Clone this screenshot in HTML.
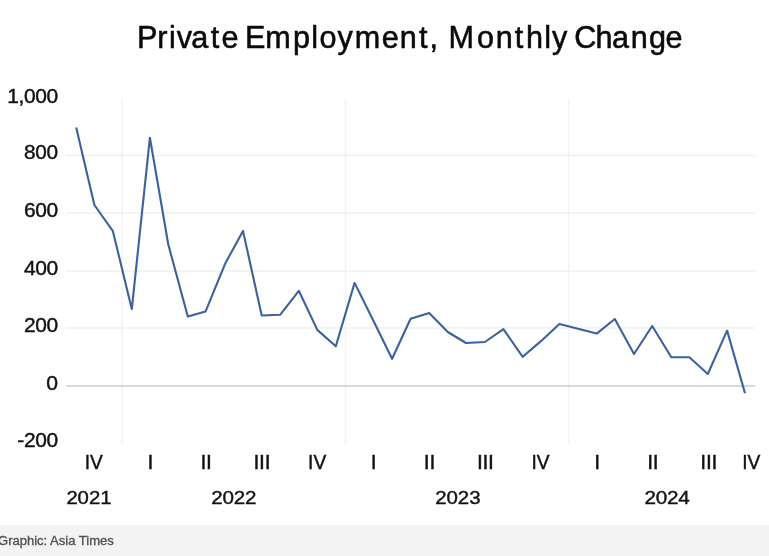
<!DOCTYPE html>
<html lang="en"><head><meta charset="utf-8"><title>Private Employment, Monthly Change</title>
<style>html,body{margin:0;padding:0;background:#fff}body{width:769px;height:556px;overflow:hidden}svg{display:block}text{font-family:'Liberation Sans', sans-serif}</style></head><body>
<svg width="769" height="556" viewBox="0 0 769 556">
<rect x="0" y="0" width="769" height="556" fill="#ffffff"/>
<rect x="0" y="525" width="769" height="31" fill="#f3f3f3"/>
<line x1="66.2" x2="755.3" y1="155.40" y2="155.40" stroke="#f0f0f0" stroke-width="1.5"/>
<line x1="66.2" x2="755.3" y1="213.10" y2="213.10" stroke="#f0f0f0" stroke-width="1.5"/>
<line x1="66.2" x2="755.3" y1="271.10" y2="271.10" stroke="#f0f0f0" stroke-width="1.5"/>
<line x1="66.2" x2="755.3" y1="328.00" y2="328.00" stroke="#f0f0f0" stroke-width="1.5"/>
<line x1="121.90" x2="121.90" y1="98.5" y2="444.5" stroke="#f2f2f2" stroke-width="1.3"/>
<line x1="345.50" x2="345.50" y1="98.5" y2="444.5" stroke="#f2f2f2" stroke-width="1.3"/>
<line x1="568.90" x2="568.90" y1="98.5" y2="444.5" stroke="#f2f2f2" stroke-width="1.3"/>
<line x1="66.2" x2="755.3" y1="386.05" y2="386.05" stroke="#cccccc" stroke-width="1.4"/>
<polyline fill="none" stroke="#3a62a2" stroke-width="2.1" stroke-linejoin="round" stroke-linecap="butt" points="76.2,127.4 94.4,205.0 112.9,231.2 131.8,309.1 149.9,137.7 168.3,244.5 187.8,316.6 205.6,311.4 225.2,263.6 243.0,230.9 261.7,315.5 280.3,314.7 298.8,290.8 317.3,329.9 335.8,346.3 354.6,282.9 373.4,320.8 392.1,358.8 410.6,318.7 429.2,312.9 447.8,332.0 466.0,343.0 484.9,342.0 503.4,329.2 522.7,356.8 541.2,340.9 559.4,324.0 578.0,328.8 596.7,333.6 614.8,319.0 634.0,354.0 652.2,326.0 671.3,357.2 689.4,357.3 707.8,374.0 727.1,330.6 745.0,393.2"/>
<text id="g0" transform="scale(0.9800,1)" x="139.85 160.38 172.47 180.41 195.25 215.13 225.95 243.54 249.96 270.76 299.01 317.56 325.98 344.46 361.95 389.50 407.98 427.55 438.25 447.03 457.56 486.76 505.81 525.38 536.75 555.45 563.36 579.34 585.85 607.54 624.49 643.70 662.12 678.98" y="47.70" font-size="31.20" fill="#0a0a0a" stroke="#0a0a0a" stroke-width="0.55">Private Employment, Monthly Change</text>
<text id="g1" transform="scale(1.0707,1)" x="6.81 17.24 22.33 32.84 43.35" y="102.80" font-size="19.60" fill="#111111" stroke="#111111" stroke-width="0.40">1,000</text>
<text id="g2" transform="scale(1.0624,1)" x="22.55 33.14 43.73" y="159.45" font-size="19.60" fill="#111111" stroke="#111111" stroke-width="0.40">800</text>
<text id="g3" transform="scale(1.0687,1)" x="22.42 32.91 43.44" y="217.10" font-size="19.60" fill="#111111" stroke="#111111" stroke-width="0.40">600</text>
<text id="g4" transform="scale(1.0732,1)" x="22.33 32.75 43.24" y="275.10" font-size="19.60" fill="#111111" stroke="#111111" stroke-width="0.40">400</text>
<text id="g5" transform="scale(1.0668,1)" x="22.46 32.98 43.53" y="332.00" font-size="19.60" fill="#111111" stroke="#111111" stroke-width="0.40">200</text>
<text id="g6" transform="scale(1.0783,1)" x="43.01" y="389.60" font-size="19.60" fill="#111111" stroke="#111111" stroke-width="0.40">0</text>
<text id="g7" transform="scale(1.0692,1)" x="16.12 22.40 32.89 43.42" y="447.40" font-size="19.60" fill="#111111" stroke="#111111" stroke-width="0.40">-200</text>
<text id="g8" transform="scale(0.9803,1)" x="86.36 91.82" y="469.20" font-size="19.60" fill="#111111" stroke="#111111" stroke-width="0.40">IV</text>
<text id="g9" transform="scale(1.0793,1)" x="136.58" y="469.20" font-size="19.60" fill="#111111" stroke="#111111" stroke-width="0.40">I</text>
<text id="g10" transform="scale(1.0793,1)" x="185.74 190.92" y="469.20" font-size="19.60" fill="#111111" stroke="#111111" stroke-width="0.40">II</text>
<text id="g11" transform="scale(1.0793,1)" x="234.90 240.08 245.26" y="469.20" font-size="19.60" fill="#111111" stroke="#111111" stroke-width="0.40">III</text>
<text id="g12" transform="scale(0.9803,1)" x="314.25 319.71" y="469.20" font-size="19.60" fill="#111111" stroke="#111111" stroke-width="0.40">IV</text>
<text id="g13" transform="scale(1.0793,1)" x="343.57" y="469.20" font-size="19.60" fill="#111111" stroke="#111111" stroke-width="0.40">I</text>
<text id="g14" transform="scale(1.0793,1)" x="392.73 397.91" y="469.20" font-size="19.60" fill="#111111" stroke="#111111" stroke-width="0.40">II</text>
<text id="g15" transform="scale(1.0793,1)" x="441.88 447.07 452.25" y="469.20" font-size="19.60" fill="#111111" stroke="#111111" stroke-width="0.40">III</text>
<text id="g16" transform="scale(0.9803,1)" x="542.14 547.60" y="469.20" font-size="19.60" fill="#111111" stroke="#111111" stroke-width="0.40">IV</text>
<text id="g17" transform="scale(1.0793,1)" x="550.56" y="469.20" font-size="19.60" fill="#111111" stroke="#111111" stroke-width="0.40">I</text>
<text id="g18" transform="scale(1.0793,1)" x="599.72 604.90" y="469.20" font-size="19.60" fill="#111111" stroke="#111111" stroke-width="0.40">II</text>
<text id="g19" transform="scale(1.0793,1)" x="648.87 654.06 659.24" y="469.20" font-size="19.60" fill="#111111" stroke="#111111" stroke-width="0.40">III</text>
<text id="g20" transform="scale(0.9803,1)" x="757.07 762.53" y="469.20" font-size="19.60" fill="#111111" stroke="#111111" stroke-width="0.40">IV</text>
<text id="g21" transform="scale(1.0604,1)" x="62.61 73.19 83.83 94.58" y="504.50" font-size="19.20" fill="#111111" stroke="#111111" stroke-width="0.40">2021</text>
<text id="g22" transform="scale(1.0739,1)" x="196.65 207.10 217.61 228.08" y="504.50" font-size="19.20" fill="#111111" stroke="#111111" stroke-width="0.40">2022</text>
<text id="g23" transform="scale(1.0650,1)" x="408.70 419.24 429.83 440.51" y="504.50" font-size="19.20" fill="#111111" stroke="#111111" stroke-width="0.40">2023</text>
<text id="g24" transform="scale(1.0793,1)" x="597.12 607.52 617.97 628.43" y="504.50" font-size="19.20" fill="#111111" stroke="#111111" stroke-width="0.40">2024</text>
<text id="f" x="-2.01" y="544.70" font-size="12.30" fill="#4f4f4f" stroke="#4f4f4f" stroke-width="0.30" textLength="115.81" lengthAdjust="spacingAndGlyphs">Graphic: Asia Times</text>
</svg></body></html>
